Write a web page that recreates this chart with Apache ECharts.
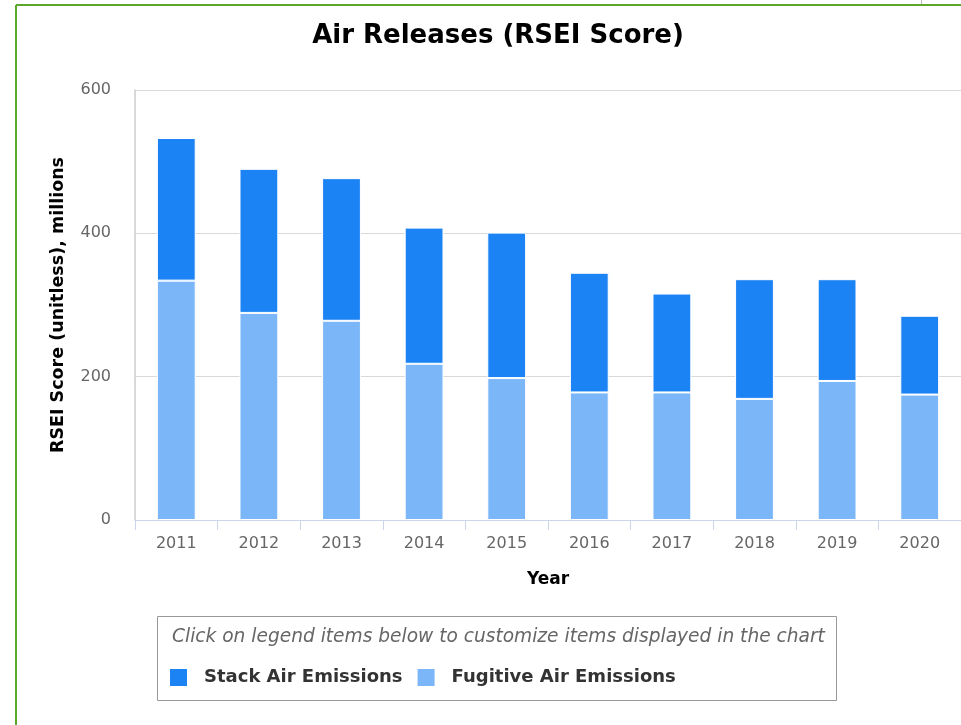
<!DOCTYPE html>
<html><head><meta charset="utf-8">
<script src="https://cdn.jsdelivr.net/npm/echarts@6/dist/echarts.min.js"></script>
<style>html,body{margin:0;padding:0;background:#fff}#c{width:961px;height:725px}</style>
</head><body><div id="c"></div>
<script>
var years = ['2011','2012','2013','2014','2015','2016','2017','2018','2019','2020'];
var fugitive = [334, 289, 278, 218, 198, 178, 178, 169, 194, 175];
var stack = [199, 201, 199, 190, 203, 167, 138, 167, 142, 110];
var yTicks = [0, 200, 400, 600];

var font = '"DejaVu Sans", sans-serif';
var chart = echarts.init(document.getElementById('c'));
chart.setOption({
  animation: false,
  textStyle: {fontFamily: font},
  title: {
    text: 'Air Releases (RSEI Score)',
    left: 493, top: 18, textAlign: 'center',
    textStyle: {fontSize: 26, fontWeight: 'bold', color: '#000', fontFamily: font}
  },
  graphic: [
    {type: 'line', shape: {x1: 16, y1: 5, x2: 961, y2: 5}, style: {stroke: '#5aa82a', lineWidth: 2}},
    {type: 'line', shape: {x1: 16, y1: 5, x2: 16, y2: 725}, style: {stroke: '#5aa82a', lineWidth: 2}},
    {type: 'line', shape: {x1: 921.5, y1: 0, x2: 921.5, y2: 4}, style: {stroke: '#bbb', lineWidth: 1}},
    {type: 'rect', shape: {x: 157.5, y: 616.5, width: 679, height: 84}, style: {fill: 'none', stroke: '#999', lineWidth: 1}},
    {type: 'text', left: 172, top: 628, style: {text: 'Click on legend items below to customize items displayed in the chart', fontSize: 18.6, fontStyle: 'italic', fill: '#666', fontFamily: font}}
  ],
  legend: {
    left: 163, top: 662, itemWidth: 19, itemHeight: 19, itemGap: 13, icon: 'rect',
    data: ['Stack Air Emissions', 'Fugitive Air Emissions'],
    textStyle: {fontSize: 18, fontWeight: 'bold', color: '#333', fontFamily: font, padding: [0, 0, 0, 11]}
  },
  grid: {left: 135, right: -2, top: 90, bottom: 205, containLabel: false},
  xAxis: {
    type: 'category', data: years,
    name: 'Year', nameLocation: 'middle', nameGap: 51,
    nameTextStyle: {fontSize: 17, fontWeight: 'bold', color: '#000', fontFamily: font},
    axisLine: {lineStyle: {color: '#ccd6eb', width: 1}},
    axisTick: {show: true, length: 10, lineStyle: {color: '#ccd6eb'}},
    axisLabel: {fontSize: 16, color: '#666', margin: 16, fontFamily: font}
  },
  yAxis: {
    type: 'value', min: 0, max: 600, interval: 200,
    name: 'RSEI Score (unitless), millions', nameLocation: 'middle', nameGap: 68,
    nameTextStyle: {fontSize: 17.5, fontWeight: 'bold', color: '#000', fontFamily: font},
    axisLine: {show: true, lineStyle: {color: '#cccccc', width: 1.5}},
    axisTick: {show: false},
    axisLabel: {fontSize: 16, color: '#666', margin: 24, fontFamily: font,
      formatter: function(v){ return yTicks.indexOf(v) >= 0 ? String(v) : ''; }},
    splitLine: {lineStyle: {color: '#d9d9d9'}}
  },
  series: [
    {name: 'Fugitive Air Emissions', type: 'bar', stack: 'a', data: fugitive, barWidth: '47%',
      itemStyle: {color: '#7ab6f8', borderColor: '#fff', borderWidth: 1}},
    {name: 'Stack Air Emissions', type: 'bar', stack: 'a', data: stack, barWidth: '47%',
      itemStyle: {color: '#1c83f4', borderColor: '#fff', borderWidth: 1}}
  ]
});
</script></body></html>
